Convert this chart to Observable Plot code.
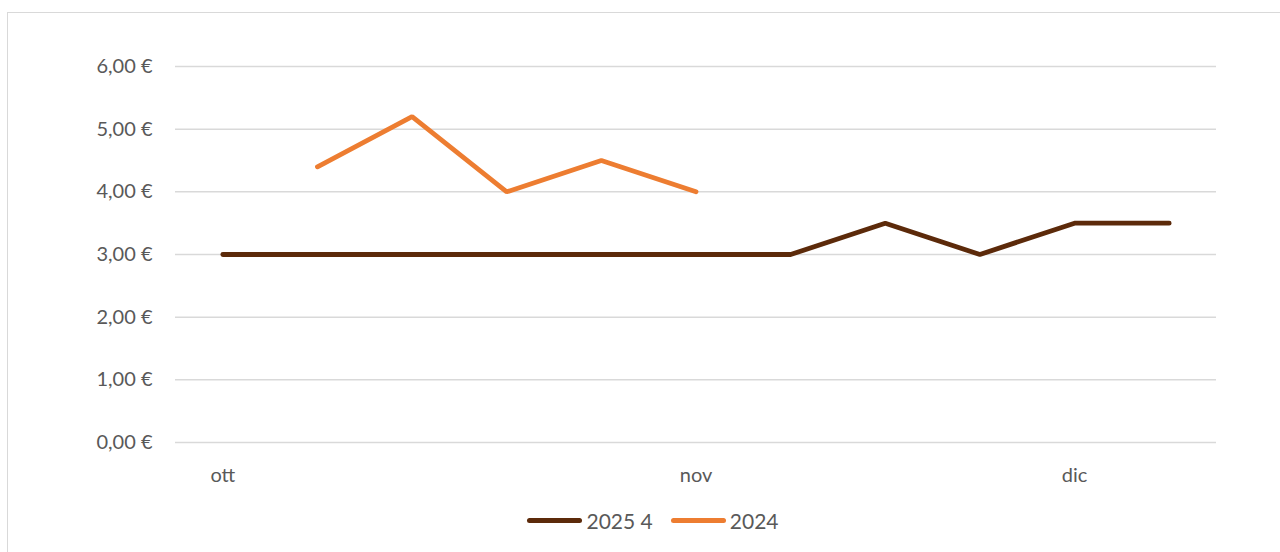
<!DOCTYPE html>
<html><head><meta charset="utf-8">
<script src="https://cdn.jsdelivr.net/npm/d3@7"></script>
<script src="https://cdn.jsdelivr.net/npm/@observablehq/plot@0.6"></script>
<style>
html,body{margin:0;padding:0;background:#fff;}
#wrap{position:relative;width:1280px;height:552px;overflow:hidden;font-family:Lato,"Open Sans",sans-serif;}
#frame{position:absolute;left:7px;top:12px;width:1290px;height:560px;border:1px solid #d9d9d9;box-sizing:border-box;}
#chart{position:absolute;left:0;top:0;}
#legend{position:absolute;left:13px;top:502px;width:1280px;text-align:center;font-size:21px;color:#595959;}
.item{display:inline-flex;align-items:center;margin:0 9px;}
.sw{display:inline-block;width:55px;height:5px;border-radius:3px;margin-right:4px;}
</style></head>
<body><div id="wrap"><div id="frame"></div><div id="chart"></div><div id="legend"></div></div>
<script>
const weeks = [0,1,2,3,4,5,6,7,8,9,10];
const tickIndex = [0,5,9];
const tickLabels = ["ott","nov","dic"];
const seriesNames = ["2025 4","2024"];
const seriesColors = ["#5C2A0A","#ED7D31"];
const values2025 = [3,3,3,3,3,3,3,3.5,3,3.5,3.5];
const values2024 = [null,4.4,5.2,4.0,4.5,4.0,null,null,null,null,null];
const yTicks = [0,1,2,3,4,5,6];

const data = [];
weeks.forEach((w,i)=>{
  if (values2025[i]!=null) data.push({week:w, value:values2025[i], series:seriesNames[0]});
});
weeks.forEach((w,i)=>{
  if (values2024[i]!=null) data.push({week:w, value:values2024[i], series:seriesNames[1]});
});

const fmt = d => d.toFixed(2).replace(".", ",") + " €";

const chart = Plot.plot({
  width: 1280,
  height: 495,
  marginLeft: 175,
  marginRight: 64,
  marginTop: 66,
  marginBottom: 53,
  style: {fontFamily: "Lato, 'Open Sans', sans-serif", fontSize: "20px", color: "#595959", background: "transparent"},
  x: {domain: [-0.5, 10.5], ticks: tickIndex, tickFormat: d => tickLabels[tickIndex.indexOf(d)], tickSize: 0, tickPadding: 24, label: null},
  y: {domain: [0, 6], ticks: yTicks, tickFormat: fmt, tickSize: 0, tickPadding: 23, label: null},
  color: {domain: seriesNames, range: seriesColors},
  marks: [
    Plot.ruleY(yTicks, {stroke: "#d9d9d9", strokeWidth: 1.5}),
    Plot.axisY({ticks: yTicks, tickFormat: fmt, tickSize: 0, tickPadding: 23, fontSize: 20, fill: "#595959"}),
    Plot.axisX({ticks: tickIndex, tickFormat: d => tickLabels[tickIndex.indexOf(d)], tickSize: 0, tickPadding: 25, fontSize: 20, fill: "#595959"}),
    Plot.line(data, {x: "week", y: "value", z: "series", stroke: "series", strokeWidth: 4.8, strokeLinecap: "round", strokeLinejoin: "miter", curve: "linear"})
  ]
});
document.getElementById("chart").appendChild(chart);

const legend = document.getElementById("legend");
seriesNames.forEach((n,i)=>{
  const it = document.createElement("span"); it.className="item";
  const sw = document.createElement("span"); sw.className="sw"; sw.style.background = seriesColors[i];
  it.appendChild(sw); it.appendChild(document.createTextNode(n));
  legend.appendChild(it);
});
</script></body></html>
